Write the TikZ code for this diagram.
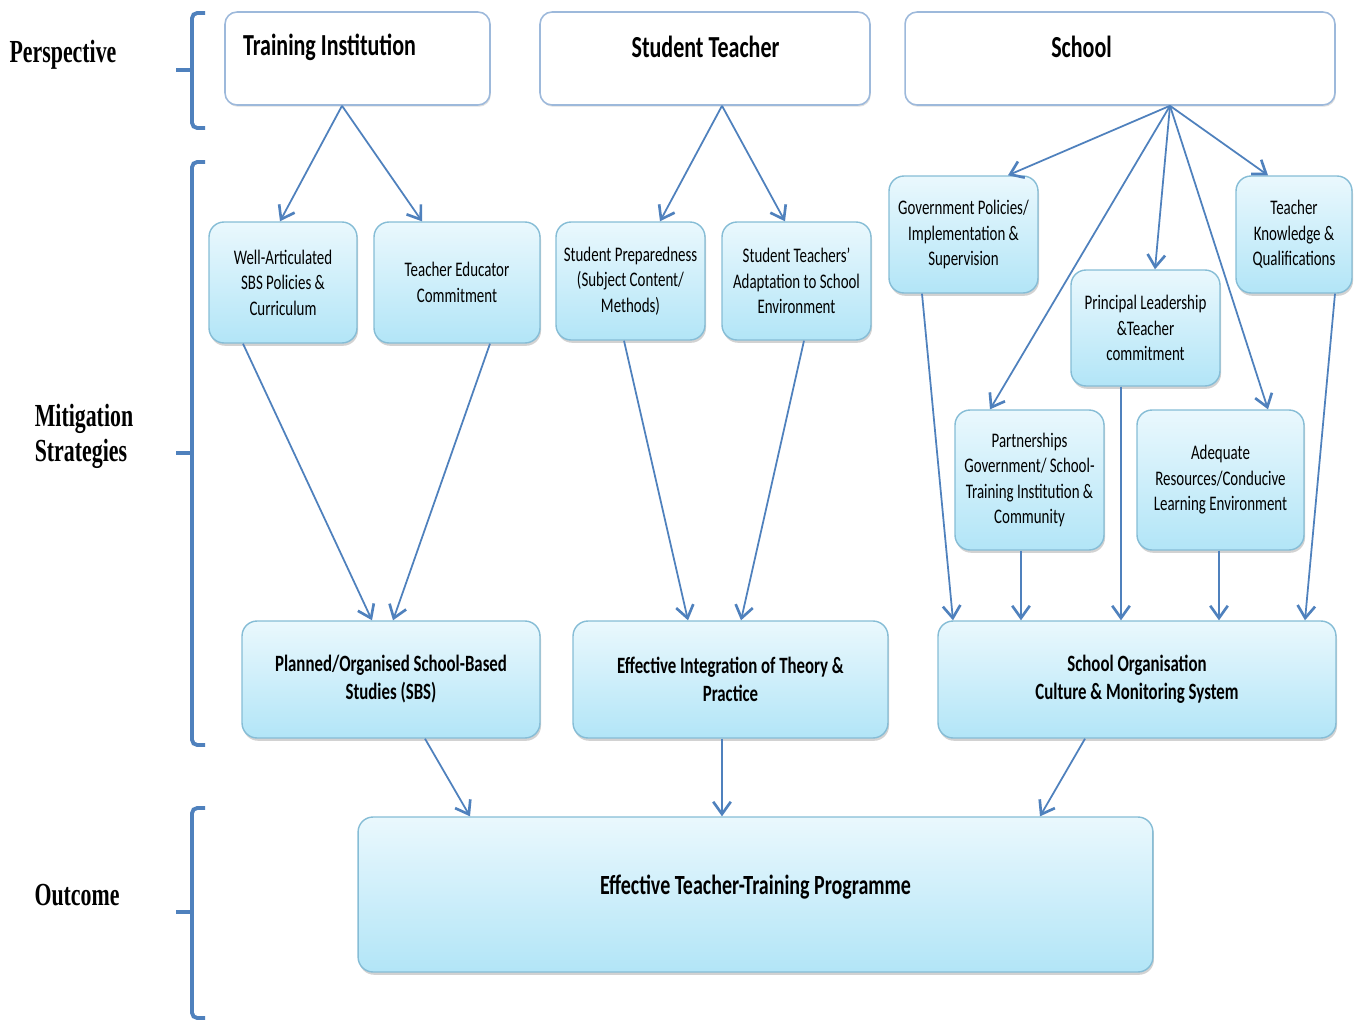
\documentclass[tikz,border=0pt]{standalone}
\usepackage{fontspec}
\setmainfont[FakeStretch=0.72]{Carlito}
\newfontfamily\sidefont[FakeStretch=0.68]{Liberation Serif}
\usepackage{xcolor}
\usepackage{tikz}
\usetikzlibrary{arrows.meta,calc,shadows}
\definecolor{flowblue}{HTML}{4F81BD}
\definecolor{boxtop}{HTML}{EAF8FD}
\definecolor{boxbot}{HTML}{B2E5F7}
\definecolor{boxline}{HTML}{86BDD6}
\definecolor{headline}{HTML}{9DB9DB}
\tikzset{
  headbox/.style={draw=headline,line width=0.9pt,fill=white,rounded corners=0.24cm,inner sep=0pt,
    drop shadow={opacity=0.25,shadow xshift=0.5pt,shadow yshift=-1pt}},
  headtitle/.style={font=\fontsize{17.4}{20}\selectfont\bfseries},
  stratbox/.style={draw=boxline,line width=0.8pt,top color=boxtop,bottom color=boxbot,
    rounded corners=0.3cm,inner sep=0pt,align=center,
    drop shadow={opacity=0.35,shadow xshift=0.6pt,shadow yshift=-1.6pt},
    font=\fontsize{11.8}{14.5}\selectfont},
  mainbox/.style={stratbox,font=\fontsize{13.3}{16}\selectfont\bfseries},
  flow/.style={draw=flowblue,line width=1pt,-{Straight Barb[length=7pt,width=10pt,line width=1.5pt]}},
  brace/.style={draw=flowblue,line width=2.2pt,rounded corners=3pt},
  side/.style={font=\sidefont\fontsize{18.3}{20}\selectfont\bfseries,align=left}
}

\begin{document}
\begin{tikzpicture}[x=0.02cm,y=-0.02cm]
  \fill[white] (0,0) rectangle (1357,1021);
  \useasboundingbox (0,0) rectangle (1357,1021);
  % side labels and braces
  \node[side] (persp) at (63,55) {Perspective};
  \node[side] (mitig) at (84,436) {Mitigation\\Strategies};
  \node[side] (outc) at (77,895) {Outcome};
  \foreach \top/\mid/\bot in {13/70/128,162/453/745,808/912/1018} {
    \draw[brace] (205,\top) -- (192,\top) -- (192,\bot) -- (205,\bot);
    \draw[brace] (192,\mid) -- (176,\mid);
  }
  % perspective
  \node[headbox,minimum width=5.3cm,minimum height=1.86cm] (ti) at (357.5,58.5) {};
  \node[headbox,minimum width=6.6cm,minimum height=1.86cm] (st) at (705,58.5) {};
  \node[headbox,minimum width=8.6cm,minimum height=1.86cm] (sc) at (1120,58.5) {};
  \node[headtitle] (ti-title) at (329.5,47) {Training Institution};
  \node[headtitle] (st-title) at (705.5,47) {Student Teacher};
  \node[headtitle] (sc-title) at (1081.5,47) {School};
  % mitigation strategies
  \node[stratbox,minimum width=2.96cm,minimum height=2.42cm] (wa) at (283,282.5)
    {Well-Articulated\\SBS Policies \&\\Curriculum};
  \node[stratbox,minimum width=3.32cm,minimum height=2.42cm] (te) at (457,282.5)
    {Teacher Educator\\Commitment};
  \node[stratbox,minimum width=2.98cm,minimum height=2.36cm] (sp) at (630.5,281)
    {Student Preparedness\\(Subject Content/\\Methods)};
  \node[stratbox,minimum width=2.98cm,minimum height=2.36cm] (sa) at (796.5,281)
    {Student Teachers'\\Adaptation to School\\Environment};
  \node[stratbox,minimum width=2.98cm,minimum height=2.34cm] (gp) at (963.5,234.5)
    {Government Policies/\\Implementation \&\\Supervision};
  \node[stratbox,minimum width=2.32cm,minimum height=2.34cm] (tk) at (1294,234.5)
    {Teacher\\Knowledge \&\\Qualifications};
  \node[stratbox,minimum width=2.98cm,minimum height=2.32cm] (pl) at (1145.5,328)
    {Principal Leadership\\\&Teacher\\commitment};
  \node[stratbox,minimum width=2.98cm,minimum height=2.8cm] (pa) at (1029.5,480)
    {Partnerships\\Government/ School-\\Training Institution \&\\Community};
  \node[stratbox,minimum width=3.34cm,minimum height=2.8cm] (ar) at (1220.5,480)
    {Adequate\\Resources/Conducive\\Learning Environment};
  \node[mainbox,minimum width=5.96cm,minimum height=2.34cm] (po) at (391,679.5)
    {Planned/Organised School-Based\\Studies (SBS)};
  \node[mainbox,minimum width=6.3cm,minimum height=2.34cm] (ei) at (730.5,679.5)
    {Effective Integration of Theory \&\\Practice};
  \node[mainbox,minimum width=7.96cm,minimum height=2.34cm] (so) at (1137,679.5)
    {School Organisation\\Culture \& Monitoring System};
  % outcome
  \node[mainbox,minimum width=15.9cm,minimum height=3.1cm,text depth=11.5pt,
    font=\fontsize{15.8}{18}\selectfont\bfseries]
    (et) at (755.5,894.5) {Effective Teacher-Training Programme};
  % connectors
  \foreach \a/\da/\b/\db in {ti/-15.5/wa/-3,ti/-15.5/te/-35,st/17/sp/29.5,st/17/sa/-11.5,
      sc/50/gp/44.5,sc/50/pa/-39.5,sc/50/pl/9.5,sc/50/ar/47.5,sc/50/tk/-26,
      wa/-40/po/-19,te/33/po/2,sp/-6.5/ei/-42.5,sa/7.5/ei/10.5,
      gp/-41.5/so/-184,pa/-8.5/so/-116,pl/-24.5/so/-16,ar/-1.5/so/82,tk/41/so/168,
      po/34/et/-285.5,ei/-8.5/et/-33.5,so/-52/et/284.5}
    \draw[flow] ($(\a.south)+(\da,0)$) -- ($(\b.north)+(\db,0)$);
\end{tikzpicture}
\end{document}
